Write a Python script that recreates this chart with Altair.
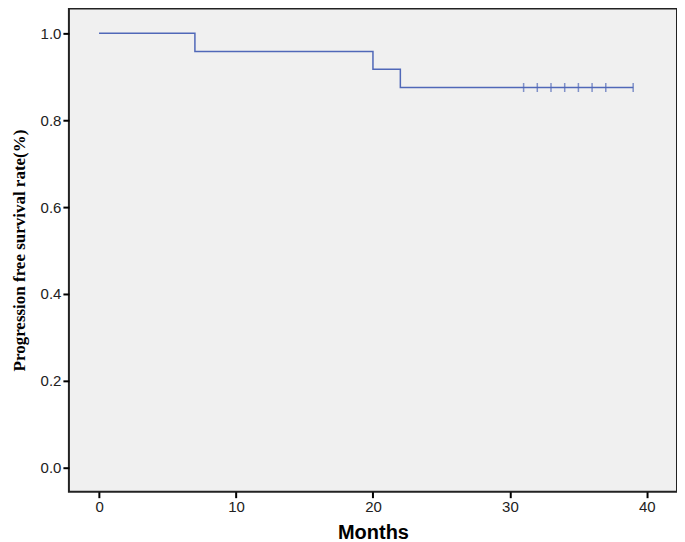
import altair as alt
import pandas as pd

# Kaplan-Meier step data
step_months = [0, 7, 20, 22, 39]
step_survival = [1.0, 0.958, 0.917, 0.875, 0.875]
censor_months = [31, 32, 33, 34, 35, 36, 37, 39]
censor_survival = [0.875] * len(censor_months)

x_ticks = [0, 10, 20, 30, 40]
y_ticks = [0.0, 0.2, 0.4, 0.6, 0.8, 1.0]

steps = pd.DataFrame({"Months": step_months, "Survival": step_survival})
cens = pd.DataFrame({"Months": censor_months, "Survival": censor_survival})

xscale = alt.Scale(domain=[-2.2, 42.2], nice=False, zero=False)
yscale = alt.Scale(domain=[-0.055, 1.057], nice=False, zero=False)

xaxis = alt.Axis(title="Months", values=x_ticks, grid=False, format="d",
                 labelFont="Liberation Sans", labelFontSize=15, labelColor="#222",
                 titleFont="Liberation Sans", titleFontSize=20, titleFontWeight="bold",
                 titleColor="#000", titlePadding=8, tickColor="#000", tickWidth=2,
                 tickSize=6, domain=False, labelPadding=2)
yaxis = alt.Axis(title="Progression free survival rate(%)", values=y_ticks, grid=False,
                 format=".1f", labelFont="Liberation Sans", labelFontSize=15,
                 labelColor="#222", titleFont="Liberation Serif", titleFontSize=17,
                 titleFontWeight="bold", titleColor="#000", titlePadding=12,
                 tickColor="#000", tickWidth=2, tickSize=6, domain=False, labelPadding=2)

line = alt.Chart(steps).mark_line(interpolate="step-after", color="#5068b8",
                                  strokeWidth=1.5).encode(
    x=alt.X("Months:Q", scale=xscale, axis=xaxis),
    y=alt.Y("Survival:Q", scale=yscale, axis=yaxis),
)

ticks = alt.Chart(cens).mark_tick(orient="vertical", color="#5068b8", size=9,
                                  thickness=1.5).encode(
    x=alt.X("Months:Q", scale=xscale),
    y=alt.Y("Survival:Q", scale=yscale),
)

chart = (line + ticks).properties(
    width=609, height=484,
    autosize=alt.AutoSizeParams(type="none"),
    padding={"left": 61, "top": 0, "right": 0, "bottom": 50},
).configure(
    background="white",
    view=alt.ViewConfig(fill="#f0f0f0", stroke="#222", strokeWidth=2),
)

chart.save("out.html", embed_options={"renderer": "svg", "actions": False})
